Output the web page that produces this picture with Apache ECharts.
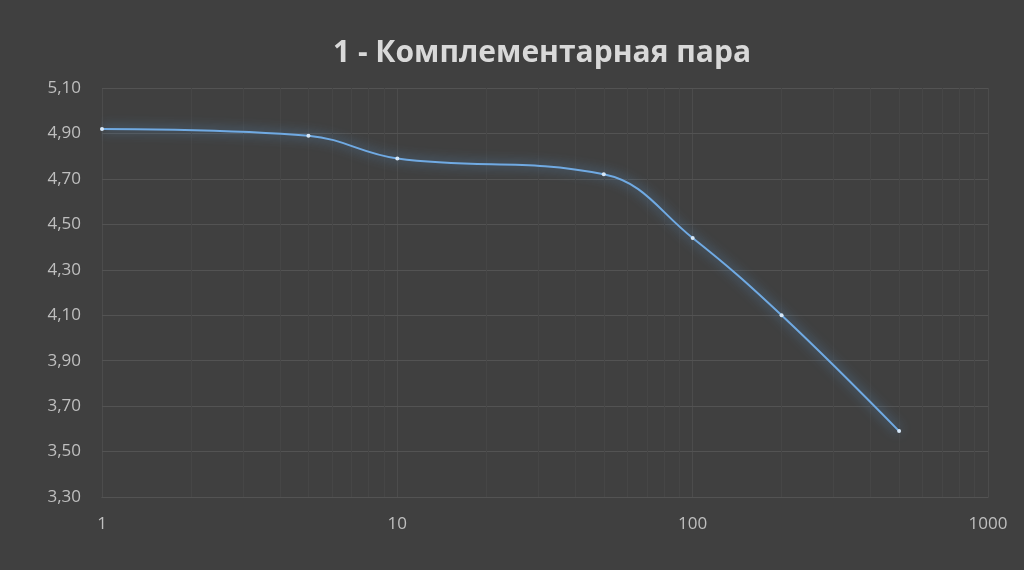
<!DOCTYPE html>
<html>
<head>
<meta charset="utf-8">
<title>1 - Комплементарная пара</title>
<script src="https://cdn.jsdelivr.net/npm/echarts@6/dist/echarts.min.js"></script>
<style>
    html, body { margin: 0; padding: 0; background: #404040; }
    #chart { width: 1024px; height: 570px; }
</style>
</head>
<body>
<div id="chart"></div>
<script>
// данные с графика
var xValues = [1, 5, 10, 50, 100, 200, 500];
var yValues = [4.92, 4.89, 4.79, 4.72, 4.44, 4.10, 3.59];
var yTicks = [3.30, 3.50, 3.70, 3.90, 4.10, 4.30, 4.50, 4.70, 4.90, 5.10];
var xMinor = [2, 3, 4, 5, 6, 7, 8, 9, 20, 30, 40, 50, 60, 70, 80, 90, 200, 300, 400, 500, 600, 700, 800, 900];

var chart = echarts.init(document.getElementById('chart'));

var points = xValues.map(function (x, i) { return [x, yValues[i]]; });

// сетка рисуется через markLine, т.к. шкала Y начинается с 3,30
var gridLines = [];
yTicks.forEach(function (v) {
    gridLines.push({ yAxis: v, lineStyle: { color: '#535353', width: 1, type: 'solid' } });
});
xMinor.forEach(function (v) {
    gridLines.push({ xAxis: v, lineStyle: { color: '#464646', width: 1, type: 'solid' } });
});

var option = {
    backgroundColor: '#404040',
    animation: false,
    title: {
        text: '1 - Комплементарная пара',
        left: 537,
        top: 33,
        textAlign: 'center',
        textStyle: {
            color: '#d9d9d9',
            fontFamily: 'Open Sans',
            fontWeight: 'bold',
            fontSize: 30
        }
    },
    grid: {
        left: 102,
        right: 36,
        top: 88,
        bottom: 73
    },
    xAxis: {
        type: 'log',
        logBase: 10,
        min: 1,
        max: 1000,
        axisLine: { show: true, lineStyle: { color: '#595959' } },
        axisTick: { show: false },
        axisLabel: {
            color: '#bfbfbf',
            fontFamily: 'Open Sans',
            fontSize: 17,
            margin: 19,
            formatter: function (v) { return String(Math.round(v)); }
        },
        splitLine: { show: true, lineStyle: { color: '#4c4c4c', width: 1 } }
    },
    yAxis: {
        type: 'value',
        min: 3.3,
        max: 5.1,
        interval: 0.1,
        axisLine: { show: false },
        axisTick: { show: false },
        axisLabel: {
            color: '#bfbfbf',
            fontFamily: 'Open Sans',
            fontSize: 17,
            margin: 21,
            formatter: function (v) {
                var hit = yTicks.some(function (t) { return Math.abs(t - v) < 1e-6; });
                return hit ? v.toFixed(2).replace('.', ',') : '';
            }
        },
        splitLine: { show: false }
    },
    series: [
        {
            type: 'line',
            data: points,
            smooth: 0.4,
            symbol: 'circle',
            symbolSize: 4,
            itemStyle: { color: '#d6e7f7', borderWidth: 0 },
            lineStyle: {
                color: '#70aae3',
                width: 2,
                shadowColor: 'rgba(91,155,213,1)',
                shadowBlur: 12
            },
            z: 5,
            markLine: {
                silent: true,
                symbol: ['none', 'none'],
                label: { show: false },
                data: gridLines,
                z: 1
            }
        }
    ]
};

chart.setOption(option);
</script>
</body>
</html>
